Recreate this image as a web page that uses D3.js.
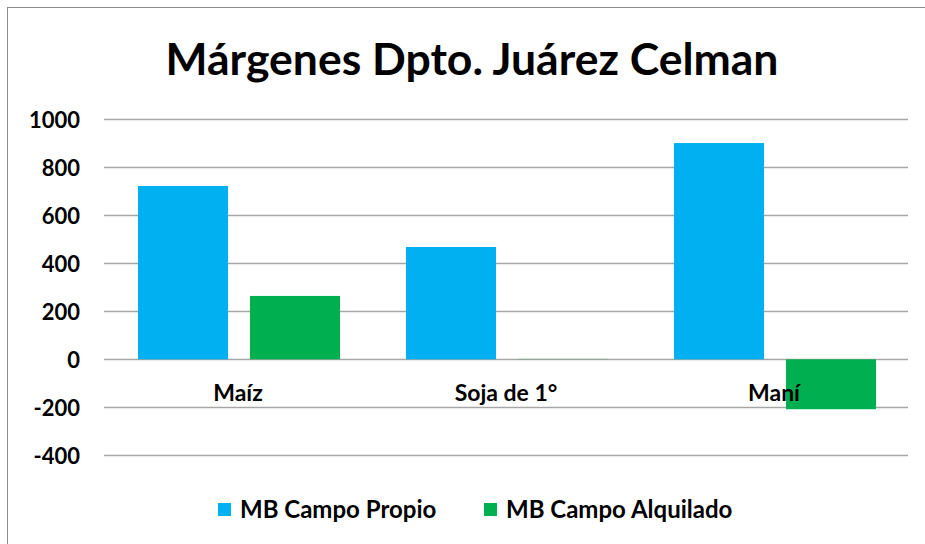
<!DOCTYPE html>
<html>
<head>
<meta charset="utf-8">
<script src="https://cdn.jsdelivr.net/npm/d3@7"></script>
<style>
  body { margin: 0; background: #fff; }
  text { font-family: Lato, "Open Sans", sans-serif; font-weight: bold; fill: #000; }
</style>
</head>
<body>
<svg></svg>
<script>
// data
var categories = ['Maíz', 'Soja de 1°', 'Maní']
var seriesNames = ['MB Campo Propio', 'MB Campo Alquilado']
var campoPropio = [722, 468, 901]
var campoAlquilado = [264, 2, -208]
var yTicks = [-400, -200, 0, 200, 400, 600, 800, 1000]
var colors = ['#00b0f0', '#00b050']

var width = 925,
    height = 544

var svg = d3.select('svg')
            .attr('width', width)
            .attr('height', height)

// outer frame of the chart area
svg.append('rect')
  .attr('x', 7.5).attr('y', 7.5)
  .attr('width', width).attr('height', height)
  .attr('fill', 'none')
  .attr('stroke', '#8c8c8c')

var plot = {left: 104, right: 908, top: 119.3, bottom: 455.3}

var y = d3.scaleLinear()
    .domain([-400, 1000])
    .range([plot.bottom, plot.top])

var x0 = d3.scaleBand()
    .domain(categories)
    .range([plot.left, plot.right])

var x1 = d3.scaleBand()
    .domain(seriesNames)
    .range([34, x0.bandwidth() - 32])
    .paddingInner(0.196)

// gridlines
svg.append('g')
  .selectAll('line')
  .data(yTicks)
  .enter()
  .append('line')
    .attr('x1', plot.left).attr('x2', plot.right)
    .attr('y1', (d) => Math.round(y(d)) + 0.5)
    .attr('y2', (d) => Math.round(y(d)) + 0.5)
    .attr('stroke', '#a6a6a6')
    .attr('stroke-width', 1.3)

// y axis labels
var yAxis = d3.axisLeft(y)
  .tickValues(yTicks)
  .tickFormat((d) => String(d))
  .tickSize(0).tickPadding(0)
var ya = svg.append('g')
  .attr('transform', 'translate(80,0)')
  .call(yAxis)
ya.select('.domain').remove()
ya.selectAll('text')
  .attr('font-size', 22)
  .attr('dy', '0.36em')
  .style('font-family', 'Lato, sans-serif')
  .style('font-weight', 'bold')
  .attr('fill', '#000')

// bars
var rows = categories.map((c, i) => ({cat: c, vals: [campoPropio[i], campoAlquilado[i]]}))

var groups = svg.selectAll('g.cat')
  .data(rows)
  .enter()
  .append('g')
    .attr('class', 'cat')
    .attr('transform', (d) => `translate(${x0(d.cat)},0)`)

groups.selectAll('rect')
  .data((d) => d.vals.map((v, j) => ({name: seriesNames[j], value: v, color: colors[j]})))
  .enter()
  .append('rect')
    .attr('x', (d) => x1(d.name))
    .attr('width', x1.bandwidth())
    .attr('y', (d) => y(Math.max(0, d.value)))
    .attr('height', (d) => Math.abs(y(d.value) - y(0)))
    .attr('fill', (d) => d.color)
    .attr('opacity', (d) => Math.abs(d.value) < 5 ? 0.45 : 1)

// category labels (drawn over the bars)
svg.append('g')
  .selectAll('text')
  .data(categories)
  .enter()
  .append('text')
    .attr('x', (d) => x0(d) + x0.bandwidth() / 2)
    .attr('y', 401)
    .attr('text-anchor', 'middle')
    .attr('font-size', 23)
    .text((d) => d)

// title
svg.append('text')
  .attr('x', 472)
  .attr('y', 75)
  .attr('text-anchor', 'middle')
  .attr('font-size', 44.5)
  .text('Márgenes Dpto. Juárez Celman')

// legend
var legendX = [218, 484]
var legend = svg.selectAll('g.legend')
  .data(seriesNames)
  .enter()
  .append('g')
    .attr('class', 'legend')
    .attr('transform', (d, i) => `translate(${legendX[i]},503)`)

legend.append('rect')
  .attr('width', 13).attr('height', 13)
  .attr('fill', (d, i) => colors[i])

legend.append('text')
  .attr('x', 22)
  .attr('y', 15)
  .attr('font-size', 24)
  .text((d) => d)
</script>
</body>
</html>
